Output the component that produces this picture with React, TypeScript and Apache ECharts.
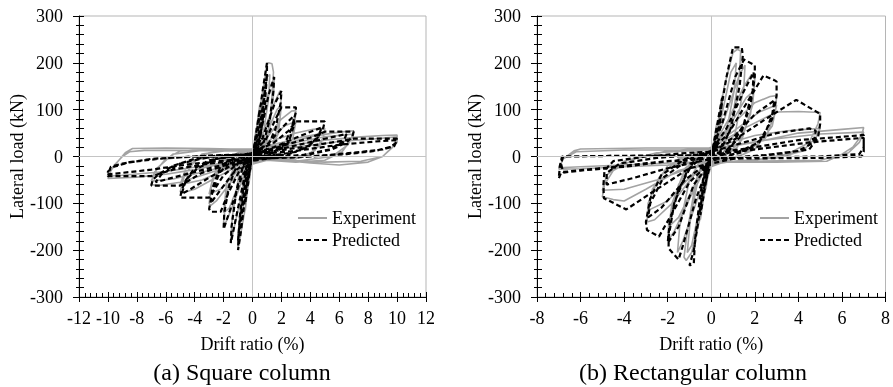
import React, { useEffect, useRef } from "react";
import * as echarts from "echarts";

const FONT = "Liberation Serif";

// Square column (a): experiment hysteresis (drift %, load kN)
const expSquare: number[][] = [
  [0, 0], [0.25, 60], [0.2, 30], [0, 5], [-0.25, -60], [-0.2, -30], [0, 0],
  [0.1, 20], [0.5, 110], [0.45, 70], [0.2, 15], [0, 0], [-0.2, -30], [-0.5, -115], [-0.45, -70], [-0.2, -15], [0, 0],
  [0.2, 30], [0.6, 120], [1.0, 195], [1.1, 200], [1.35, 198], [1.45, 180], [1.2, 60], [0.7, 15], [0.2, 0], [-0.1, -15], [-0.5, -110], [-0.9, -180], [-1.0, -195], [-0.95, -160], [-0.6, -40], [-0.2, 0], [0, 10],
  [0.4, 60], [1.0, 170], [1.2, 175], [1.1, 120], [0.6, 20], [0.1, -5], [-0.4, -60], [-1.0, -175], [-0.9, -130], [-0.5, -20], [-0.1, 5],
  [0.5, 50], [1.2, 150], [1.5, 165], [1.45, 130], [1.0, 30], [0.4, 0], [-0.2, -15], [-0.9, -100], [-1.4, -170], [-1.5, -180], [-1.4, -130], [-0.9, -30], [-0.3, 5], [0, 15],
  [0.8, 55], [1.6, 120], [1.9, 140], [2.0, 135], [1.9, 80], [1.3, 15], [0.5, -5], [-0.4, -25], [-1.3, -100], [-1.9, -145], [-2.0, -140], [-1.8, -80], [-1.1, -15], [-0.3, 8], [0, 15],
  [0.9, 45], [1.7, 100], [2.0, 110], [1.8, 50], [1.1, 5], [0.2, -8], [-0.6, -30], [-1.6, -110], [-2.0, -120], [-1.8, -60], [-1.0, -5], [0, 12],
  [1.0, 40], [2.0, 80], [2.7, 97], [3.0, 98], [2.9, 60], [2.3, 15], [1.0, -8], [-0.5, -20], [-1.5, -55], [-2.5, -95], [-2.9, -105], [-3.0, -100], [-2.8, -55], [-2.0, -10], [-1.0, 8], [0, 15],
  [1.2, 35], [2.2, 65], [3.0, 75], [2.8, 40], [2.0, 5], [0.5, -8], [-1.0, -30], [-2.2, -70], [-3.0, -80], [-2.7, -40], [-1.8, 0], [0, 13],
  [1.5, 35], [3.0, 50], [4.2, 58], [5.0, 60], [4.9, 40], [4.3, 12], [3.0, -5], [1.0, -8], [-1.0, -20], [-2.5, -45], [-4.0, -70], [-4.9, -78], [-5.0, -75], [-4.7, -40], [-4.0, -10], [-3.0, 8], [-1.0, 15], [0, 16],
  [2.0, 30], [3.5, 42], [5.0, 50], [4.7, 25], [3.8, 3], [2.0, -6], [0, -6], [-2.0, -30], [-3.5, -50], [-5.0, -60], [-4.6, -25], [-3.5, 5], [-1.5, 14], [0, 15],
  [2.0, 25], [4.0, 42], [6.0, 52], [7.0, 55], [6.8, 35], [6.2, 10], [5.0, -8], [3.0, -12], [1.0, -8], [-1.0, -15], [-3.0, -35], [-5.0, -55], [-6.5, -62], [-7.0, -60], [-6.8, -35], [-6.0, -5], [-5.0, 12], [-3.0, 16], [0, 16],
  [3.0, 30], [5.0, 42], [7.0, 48], [6.6, 25], [5.5, 0], [3.0, -10], [0, -6], [-3.0, -30], [-5.5, -48], [-7.0, -52], [-6.6, -25], [-5.5, 5], [-3.0, 15], [0, 15],
  [3.0, 25], [5.0, 35], [7.5, 42], [9.0, 45], [10.0, 46], [10.0, 30], [9.5, 15], [9.0, 0], [8.0, -12], [6.0, -18], [4.0, -14], [2.0, -8], [0, -6], [-2.0, -15], [-4.0, -28], [-6.0, -38], [-8.0, -44], [-10.0, -47], [-9.8, -30], [-9.3, -10], [-8.8, 8], [-8.3, 17], [-6.0, 18], [-3.0, 17], [0, 15],
  [3.0, 20], [6.0, 32], [8.5, 38], [10.0, 42], [9.7, 20], [9.0, 0], [7.5, -10], [5.0, -12], [0, -5], [-3.0, -18], [-6.0, -32], [-9.0, -40], [-10.0, -42], [-9.6, -20], [-9.0, 0], [-8.5, 10], [-7.5, 13], [-4.0, 13], [0, 12],
];

// Square column (a): predicted hysteresis
const predSquare: number[][] = [
  [0, 0], [0.5, 100], [0.4, 60], [0.1, 5], [-0.1, -10], [-0.5, -100], [-0.4, -60], [-0.1, -5], [0, 0],
  [0.3, 50], [0.7, 140], [1.0, 200], [1.0, 175], [0.8, 120], [0.4, 20], [0, -5], [-0.4, -60], [-0.8, -160], [-1.0, -200], [-0.95, -160], [-0.7, -100], [-0.3, -10], [0, 5],
  [0.4, 40], [0.9, 150], [1.0, 175], [0.85, 110], [0.4, 10], [-0.1, -10], [-0.6, -90], [-1.0, -180], [-0.85, -120], [-0.4, -15], [0, 5],
  [0.5, 40], [1.1, 130], [1.5, 170], [1.45, 140], [1.2, 80], [0.6, 10], [0, -8], [-0.6, -50], [-1.2, -140], [-1.5, -185], [-1.45, -150], [-1.1, -70], [-0.5, -5], [0, 8],
  [0.7, 40], [1.5, 110], [2.0, 140], [1.95, 115], [1.6, 60], [0.9, 10], [0.1, -5], [-0.7, -40], [-1.5, -110], [-2.0, -155], [-1.95, -120], [-1.6, -60], [-0.9, -5], [0, 8],
  [0.9, 35], [1.6, 80], [2.0, 105], [3.0, 105], [3.0, 95], [2.7, 60], [2.2, 25], [1.2, 5], [0, -5], [-0.9, -30], [-1.7, -80], [-2.2, -118], [-2.9, -118], [-3.0, -112], [-2.8, -80], [-2.3, -35], [-1.3, -5], [0, 8],
  [1.0, 25], [2.0, 60], [2.8, 85], [2.9, 70], [2.5, 30], [1.5, 5], [0, -5], [-1.2, -30], [-2.3, -75], [-2.9, -100], [-2.8, -70], [-2.2, -20], [-1.0, 2], [0, 8],
  [1.5, 30], [2.5, 55], [3.0, 75], [5.0, 75], [4.9, 62], [4.6, 45], [4.0, 25], [3.0, 10], [1.0, 0], [-1.0, -15], [-2.0, -40], [-3.0, -88], [-5.0, -88], [-4.9, -72], [-4.6, -50], [-4.0, -25], [-3.0, -8], [-1.0, 3], [0, 6],
  [1.5, 20], [3.0, 40], [4.2, 55], [4.8, 62], [4.5, 40], [3.8, 20], [2.5, 5], [0.5, -3], [-1.5, -20], [-3.0, -45], [-4.3, -70], [-4.9, -80], [-4.6, -50], [-3.8, -25], [-2.5, -5], [0, 5],
  [2.0, 22], [4.0, 40], [5.0, 53], [7.0, 53], [6.9, 42], [6.5, 30], [5.5, 15], [4.0, 5], [1.5, -3], [-1.5, -15], [-3.5, -35], [-5.0, -62], [-7.0, -62], [-6.9, -50], [-6.5, -38], [-5.5, -20], [-4.0, -5], [-1.5, 3], [0, 5],
  [2.5, 20], [5.0, 38], [6.5, 48], [6.3, 32], [5.3, 15], [3.5, 3], [0, -3], [-3.0, -25], [-5.5, -45], [-6.7, -55], [-6.3, -38], [-5.0, -15], [-2.5, 2], [0, 5],
  [3.0, 18], [5.5, 30], [7.0, 38], [10.0, 38], [9.9, 28], [9.5, 20], [8.5, 12], [6.5, 5], [3.0, -2], [0, -5], [-3.0, -15], [-5.5, -28], [-7.0, -42], [-10.0, -42], [-10.0, -32], [-9.6, -22], [-8.5, -12], [-6.5, -5], [-3.0, 2], [0, 5],
  [3.0, 12], [6.0, 25], [8.5, 32], [10.0, 35], [9.8, 22], [9.0, 15], [7.0, 8], [4.0, 0], [0, -3], [-4.0, -15], [-7.0, -28], [-9.0, -35], [-10.0, -38], [-9.8, -22], [-9.0, -15], [-7.0, -5], [-4.0, 0], [0, 3],
];

// Rectangular column (b): experiment hysteresis
const expRect: number[][] = [
  [0, 0], [0.25, 70], [0.2, 35], [0, 5], [-0.25, -70], [-0.2, -35], [0, 0],
  [0.2, 40], [0.5, 130], [0.45, 80], [0.2, 15], [0, 0], [-0.2, -40], [-0.5, -135], [-0.45, -80], [-0.2, -15], [0, 0],
  [0.2, 40], [0.6, 150], [1.0, 222], [1.2, 229], [1.35, 225], [1.3, 180], [1.0, 90], [0.6, 20], [0.2, 0], [-0.1, -20], [-0.5, -130], [-0.9, -205], [-1.15, -222], [-1.25, -215], [-1.1, -160], [-0.7, -50], [-0.3, 0], [0, 12],
  [0.4, 70], [0.9, 180], [1.15, 200], [1.05, 140], [0.6, 30], [0.1, -5], [-0.4, -80], [-0.9, -190], [-1.1, -205], [-0.95, -130], [-0.5, -25], [0, 10],
  [0.6, 80], [1.3, 175], [1.55, 195], [1.5, 150], [1.1, 50], [0.5, 5], [-0.1, -20], [-0.7, -100], [-1.3, -180], [-1.55, -205], [-1.45, -150], [-1.0, -50], [-0.4, 0], [0, 15],
  [0.8, 80], [1.5, 150], [1.85, 175], [2.0, 165], [1.9, 110], [1.4, 35], [0.6, 0], [-0.2, -20], [-1.0, -90], [-1.7, -160], [-2.0, -180], [-1.95, -140], [-1.5, -60], [-0.8, -5], [0, 18],
  [0.9, 70], [1.6, 125], [1.95, 140], [1.8, 90], [1.2, 20], [0.3, -8], [-0.6, -45], [-1.5, -130], [-1.95, -150], [-1.8, -100], [-1.2, -25], [0, 15],
  [1.0, 70], [2.0, 115], [2.7, 128], [3.0, 130], [2.95, 95], [2.5, 40], [1.5, 5], [0.3, -10], [-0.8, -40], [-1.8, -100], [-2.6, -135], [-2.95, -140], [-2.9, -100], [-2.4, -45], [-1.5, -5], [0, 20],
  [1.2, 60], [2.2, 95], [3.0, 110], [2.8, 65], [2.0, 15], [0.8, -8], [-0.8, -35], [-2.0, -95], [-2.9, -115], [-2.7, -70], [-2.0, -20], [-0.8, 8], [0, 18],
  [1.5, 60], [3.0, 95], [4.0, 96], [5.0, 94], [4.9, 70], [4.5, 30], [3.5, 5], [2.0, -8], [0, -12], [-1.5, -30], [-3.0, -70], [-4.0, -95], [-4.5, -92], [-5.0, -86], [-4.9, -60], [-4.5, -30], [-3.5, -5], [-2.0, 12], [0, 18],
  [2.0, 45], [3.5, 55], [5.0, 60], [4.8, 40], [4.2, 12], [3.0, -3], [1.0, -10], [-1.0, -25], [-2.5, -50], [-4.0, -70], [-5.0, -72], [-4.8, -40], [-4.0, -10], [-2.5, 8], [0, 15],
  [2.0, 30], [4.0, 50], [6.0, 58], [7.0, 62], [6.9, 45], [6.5, 20], [6.0, 5], [5.3, -10], [3.0, -12], [0, -12], [-2.0, -18], [-4.0, -22], [-6.0, -26], [-7.0, -27], [-6.8, -5], [-6.3, 12], [-6.0, 16], [-3.0, 18], [0, 18],
  [3.0, 38], [5.0, 48], [7.0, 52], [6.8, 30], [6.3, 8], [5.0, -8], [2.0, -10], [0, -10], [-3.0, -16], [-6.0, -22], [-7.0, -24], [-6.8, -5], [-6.2, 10], [-4.0, 14], [0, 14],
];

// Rectangular column (b): predicted hysteresis
const predRect: number[][] = [
  [0, 0], [0.5, 125], [0.4, 70], [0.1, 5], [-0.1, -15], [-0.5, -125], [-0.4, -70], [-0.1, -5], [0, 0],
  [0.3, 60], [0.7, 170], [1.0, 233], [1.4, 233], [1.45, 215], [1.3, 150], [0.9, 60], [0.4, 10], [0, -10], [-0.4, -80], [-0.8, -200], [-1.0, -233], [-0.8, -228], [-0.75, -180], [-0.5, -80], [-0.2, -10], [0, 10],
  [0.5, 70], [1.1, 170], [1.5, 207], [2.0, 195], [2.0, 170], [1.8, 110], [1.3, 40], [0.5, 5], [-0.1, -15], [-0.7, -90], [-1.3, -190], [-1.5, -220], [-1.96, -196], [-1.95, -170], [-1.7, -100], [-1.1, -30], [-0.3, 5], [0, 12],
  [0.7, 60], [1.5, 140], [1.95, 180], [1.9, 140], [1.5, 70], [0.8, 10], [0, -10], [-0.8, -60], [-1.5, -150], [-2.0, -185], [-1.9, -140], [-1.5, -70], [-0.8, -10], [0, 12],
  [0.8, 50], [1.7, 120], [2.4, 173], [2.9, 163], [3.0, 160], [3.0, 130], [2.8, 80], [2.2, 30], [1.0, 5], [0, -10], [-1.0, -55], [-1.9, -130], [-2.4, -171], [-2.95, -157], [-3.0, -140], [-2.8, -90], [-2.3, -40], [-1.2, -5], [0, 12],
  [1.0, 40], [2.0, 90], [2.9, 120], [2.8, 90], [2.4, 40], [1.5, 10], [0, -8], [-1.2, -50], [-2.3, -110], [-2.9, -130], [-2.8, -100], [-2.2, -45], [-1.0, -5], [0, 10],
  [1.2, 40], [2.5, 80], [3.9, 121], [5.0, 91], [5.0, 70], [4.9, 40], [4.5, 15], [3.0, 5], [1.0, -5], [-1.0, -25], [-2.5, -70], [-3.9, -113], [-4.93, -89], [-4.95, -60], [-4.9, -30], [-4.5, -10], [-3.0, 0], [-1.0, 8], [0, 10],
  [1.5, 30], [3.0, 50], [4.5, 60], [4.8, 55], [4.7, 30], [4.0, 12], [2.5, 3], [0, -5], [-2.0, -25], [-3.5, -45], [-4.8, -60], [-4.8, -35], [-4.2, -15], [-2.5, -3], [0, 6],
  [2.0, 20], [4.0, 35], [6.0, 42], [7.0, 46], [7.0, 35], [7.0, 10], [6.9, 0], [5.0, -3], [2.0, -4], [0, -5], [-2.0, -10], [-4.0, -22], [-6.0, -30], [-6.9, -35], [-7.0, -47], [-6.95, -20], [-6.85, 0], [-5.0, 1], [-2.0, 2], [0, 3],
  [2.5, 18], [4.5, 30], [6.5, 38], [7.0, 40], [7.0, 20], [6.8, 5], [5.0, 0], [0, -3], [-2.5, -12], [-5.0, -25], [-6.8, -33], [-6.9, -15], [-6.8, 0], [-3.0, 2], [0, 2],
];

const panels = [
  { caption: "(a) Square column", xMax: 12, exp: expSquare, pred: predSquare },
  { caption: "(b) Rectangular column", xMax: 8, exp: expRect, pred: predRect },
];

const GRAY = "#a3a3a3";

function txt() {
  return { fontFamily: FONT, fontSize: 18, color: "#000" };
}

export default function App() {
  const ref = useRef<HTMLDivElement>(null);
  useEffect(() => {
    if (!ref.current) return;
    const chart = echarts.init(ref.current, null, { renderer: "svg" });
    const grids = [
      { left: 79, top: 16, width: 347, height: 281 },
      { left: 537, top: 16, width: 350, height: 281 },
    ];
    const xAxis: any[] = [];
    const yAxis: any[] = [];
    const series: any[] = [];
    const legend: any[] = [];
    const graphic: any[] = [];
    const legendLeft = [297, 759];
    const captionX = [242, 693];
    const yNameGap = [52, 53];
    panels.forEach((p, gi) => {
      const xmin = -p.xMax;
      xAxis.push({
        type: "value", gridIndex: gi, position: "bottom", min: xmin, max: p.xMax, interval: 2,
        name: "Drift ratio (%)", nameLocation: "middle", nameGap: 38, nameTextStyle: txt(),
        axisLine: { show: true, onZero: false, lineStyle: { color: "#000", width: 1 } },
        axisTick: { show: true, inside: false, length: 5, lineStyle: { color: "#000" } },
        minorTick: { show: false },
        axisLabel: { ...txt(), margin: 12 },
        splitLine: { show: false },
      });
      xAxis.push({
        type: "value", gridIndex: gi, position: "bottom", min: xmin, max: p.xMax, interval: 2,
        axisLine: { show: false, onZero: false },
        axisTick: { show: true, inside: true, length: 5, lineStyle: { color: "#000" } },
        minorTick: { show: true, splitNumber: 5, length: 4, lineStyle: { color: "#000" } },
        axisLabel: { show: false },
        splitLine: { show: false },
      });
      yAxis.push({
        type: "value", gridIndex: gi, position: "left", min: -300, max: 300, interval: 100,
        name: "Lateral load (kN)", nameLocation: "middle", nameGap: yNameGap[gi], nameTextStyle: txt(),
        axisLine: { show: true, onZero: false, lineStyle: { color: "#000", width: 1 } },
        axisTick: { show: true, inside: false, length: 6, lineStyle: { color: "#000" } },
        minorTick: { show: true, splitNumber: 5, length: 3, lineStyle: { color: "#000" } },
        axisLabel: { ...txt(), margin: 16 },
        splitLine: { show: false },
      });
      yAxis.push({
        type: "value", gridIndex: gi, position: "left", min: -300, max: 300, interval: 100,
        axisLine: { show: false, onZero: false },
        axisTick: { show: true, inside: true, length: 5, lineStyle: { color: "#000" } },
        minorTick: { show: true, splitNumber: 5, length: 5, lineStyle: { color: "#000" } },
        axisLabel: { show: false },
        splitLine: { show: false },
      });
      series.push({
        name: "Experiment", type: "line", xAxisIndex: gi * 2, yAxisIndex: gi * 2,
        data: p.exp, symbol: "none", z: 2,
        lineStyle: { color: GRAY, width: 1.6 }, itemStyle: { color: GRAY },
        markLine: {
          silent: true, symbol: "none", label: { show: false },
          lineStyle: { color: "#c4c4c4", width: 1, type: "solid" },
          data: [{ xAxis: 0 }, { yAxis: 0 }],
        },
      });
      series.push({
        name: "Predicted", type: "line", xAxisIndex: gi * 2, yAxisIndex: gi * 2,
        data: p.pred, symbol: "none", z: 3,
        lineStyle: { color: "#000", width: 2.2, type: [5, 3] }, itemStyle: { color: "#000" },
      });
      legend.push({
        show: true, orient: "vertical", left: legendLeft[gi], top: 209, padding: 0,
        itemWidth: 29, itemHeight: 14, itemGap: 4,
        data: ["Experiment", "Predicted"],
        itemStyle: { opacity: 0 },
        textStyle: txt(),
        selectedMode: false,
      });
      graphic.push({
        type: "text", x: captionX[gi], y: 372,
        style: { text: p.caption, fontFamily: FONT, fontSize: 24, fill: "#000", align: "center", verticalAlign: "middle" },
      });
    });
    chart.setOption({
      animation: false,
      grid: grids.map((g) => ({ ...g, show: true, borderColor: "#b5b5b5", borderWidth: 1 })),
      xAxis, yAxis, series, legend, graphic,
    });
    return () => chart.dispose();
  }, []);
  return <div ref={ref} style={{ position: "fixed", left: 0, top: 0, width: 893, height: 387 }} />;
}
